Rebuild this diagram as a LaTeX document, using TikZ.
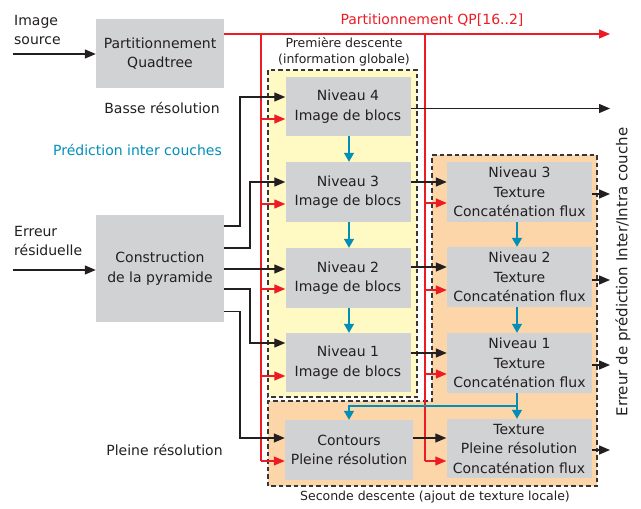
\documentclass[tikz,border=0pt]{standalone}
\usepackage{fontspec}
\setmainfont{DejaVu Sans}
\usetikzlibrary{arrows.meta}
\definecolor{boxgray}{RGB}{209,210,212}
\definecolor{lineblack}{RGB}{35,31,32}
\definecolor{redline}{RGB}{237,28,36}
\definecolor{tealc}{RGB}{0,143,184}
\definecolor{yellowfill}{RGB}{255,249,196}
\definecolor{orangefill}{RGB}{252,214,168}
\definecolor{dashgray}{RGB}{55,55,55}
\begin{document}
\begin{tikzpicture}[x=1pt,y=-1pt,
  box/.style={fill=boxgray, inner sep=0pt, align=center, font=\fontsize{14}{19.5}\selectfont, text=lineblack},
  lbl/.style={inner sep=0pt, align=center, font=\fontsize{14}{19}\selectfont, text=lineblack},
  smalllbl/.style={inner sep=0pt, align=center, font=\fontsize{12.5}{16}\selectfont, text=lineblack},
  blk/.style={draw=lineblack, line width=1.3pt, -{Triangle[length=11pt,width=9pt]}},
  redarr/.style={draw=redline, line width=1.3pt, -{Triangle[length=11pt,width=9pt]}},
  redl/.style={draw=redline, line width=1.3pt},
  tealarr/.style={draw=tealc, line width=1.4pt, -{Triangle[length=9pt,width=10pt]}},
  region/.style={draw=dashgray, line width=1.1pt, dash pattern=on 4.5pt off 3pt}
]
\useasboundingbox (0,0) rectangle (641,509);

% regions
\path[region, fill=yellowfill] (268,70) rectangle (417,397);
\path[region, fill=orangefill] (432,155) -- (597,155) -- (597,486) -- (268,486) -- (268,401) -- (432,401) -- cycle;

% boxes
\node[box, minimum width=128pt, minimum height=69pt] (quad) at (160,53.5) {Partitionnement\\Quadtree};
\node[box, minimum width=128pt, minimum height=107pt] (constr) at (160,268.5) {Construction\\de la pyramide};
\node[box, minimum width=125pt, minimum height=59pt] (n4) at (348,106.5) {Niveau 4\\Image de blocs};
\node[box, minimum width=125pt, minimum height=60pt] (n3) at (348,192) {Niveau 3\\Image de blocs};
\node[box, minimum width=125pt, minimum height=60pt] (n2) at (348,278) {Niveau 2\\Image de blocs};
\node[box, minimum width=125pt, minimum height=59pt] (n1) at (348,362.5) {Niveau 1\\Image de blocs};
\node[box, minimum width=128pt, minimum height=60pt] (cont) at (349,450) {Contours\\Pleine résolution};
\node[box, minimum width=145pt, minimum height=60pt] (t3) at (519.5,192) {Niveau 3\\Texture\\Concaténation flux};
\node[box, minimum width=145pt, minimum height=60pt] (t2) at (519.5,277) {Niveau 2\\Texture\\Concaténation flux};
\node[box, minimum width=145pt, minimum height=60pt] (t1) at (519.5,363) {Niveau 1\\Texture\\Concaténation flux};
\node[box, minimum width=145pt, minimum height=59pt] (tpr) at (519,448.5) {Texture\\Pleine résolution\\Concaténation flux};

% labels
\node[lbl, align=left, anchor=west] (imgsrc) at (14,30) {Image\\source};
\node[lbl, align=left, anchor=west] (errres) at (14,241) {Erreur\\résiduelle};
\node[lbl] (basse) at (162,107.5) {Basse résolution};
\node[lbl, text=tealc] (predic) at (137.5,150) {Prédiction inter couches};
\node[lbl] (pleine) at (164.5,450) {Pleine résolution};
\node[lbl, text=redline] (partqp) at (432,20) {Partitionnement QP[16..2]};
\node[smalllbl] (prem) at (344,52) {Première descente\\(information globale)};
\node[smalllbl] (sec) at (435,497) {Seconde descente (ajout de texture locale)};
\node[lbl, rotate=90, font=\fontsize{15}{19}\selectfont] (errpred) at (623,272) {Erreur de prédiction Inter/Intra couche};

% inputs
\coordinate (srcin) at (13,54);
\coordinate (errin) at (13,270);
\draw[blk] (srcin) -- (quad.west |- srcin);
\draw[blk] (errin) -- (constr.west |- errin);

% red partition bus
\coordinate (rtop) at (610,34);
\coordinate (rb1) at (261,34);
\coordinate (rb2) at (425,34);
\draw[redarr] (quad.east |- rtop) -- (rtop);
\draw[redl] (rb1) -- (261,461);
\draw[redl] (rb2) -- (425,461);
\draw[redarr] (rb1 |- 0,119) -- (n4.west |- 0,119);
\draw[redarr] (rb1 |- 0,204) -- (n3.west |- 0,204);
\draw[redarr] (rb1 |- 0,289) -- (n2.west |- 0,289);
\draw[redarr] (rb1 |- 0,376) -- (n1.west |- 0,376);
\draw[redarr] (rb1 |- 0,461) -- (cont.west |- 0,461);
\draw[redarr] (rb2 |- 0,203) -- (t3.west |- 0,203);
\draw[redarr] (rb2 |- 0,290) -- (t2.west |- 0,290);
\draw[redarr] (rb2 |- 0,374) -- (t1.west |- 0,374);
\draw[redarr] (rb2 |- 0,461) -- (tpr.west |- 0,461);

% pyramid outputs
\draw[blk] (constr.east |- 0,226) -| (240,97) -- (n4.west |- 0,97);
\draw[blk] (constr.east |- 0,248) -| (250,182) -- (n3.west |- 0,182);
\draw[blk] (constr.east |- 0,269) -- (n2.west |- 0,269);
\draw[blk] (constr.east |- 0,289) -| (250,343) -- (n1.west |- 0,343);
\draw[blk] (constr.east |- 0,311.5) -| (240,438) -- (cont.west |- 0,438);

% left to right
\draw[blk] (n3.east |- 0,182) -- (t3.west |- 0,182);
\draw[blk] (n2.east |- 0,267) -- (t2.west |- 0,267);
\draw[blk] (n1.east |- 0,353) -- (t1.west |- 0,353);
\draw[blk] (cont.east |- 0,438) -- (tpr.west |- 0,438);

% outputs
\coordinate (out4) at (610,108.5);
\draw[blk] (n4.east |- out4) -- (out4);
\draw[blk] (t3.east |- 0,194) -- (610,194);
\draw[blk] (t2.east |- 0,280) -- (610,280);
\draw[blk] (t1.east |- 0,365) -- (610,365);
\draw[blk] (tpr.east |- 0,450) -- (610,450);

% teal descents
\draw[tealarr] (n4.south -| 349,0) -- (n3.north -| 349,0);
\draw[tealarr] (n3.south -| 349,0) -- (n2.north -| 349,0);
\draw[tealarr] (n2.south -| 349,0) -- (n1.north -| 349,0);
\draw[tealarr] (t3.south -| 517,0) -- (t2.north -| 517,0);
\draw[tealarr] (t2.south -| 517,0) -- (t1.north -| 517,0);
\coordinate (tj) at (517,406);
\draw[tealarr] (t1.south -| tj) -- (tpr.north -| tj);
\draw[tealarr] (tj) -| (cont.north -| 349,0);
\end{tikzpicture}
\end{document}
